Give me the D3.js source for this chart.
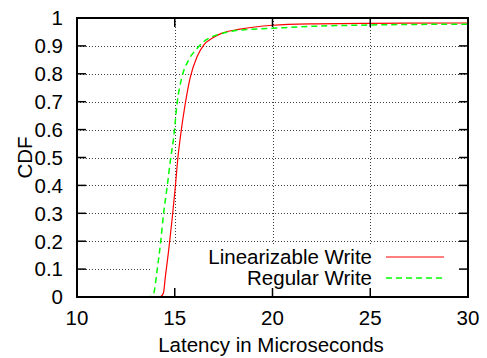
<!DOCTYPE html>
<html>
<head>
<meta charset="utf-8">
<script src="https://cdn.jsdelivr.net/npm/d3@7/dist/d3.min.js"></script>
<style>
  html, body { margin: 0; padding: 0; background: #fff; }
  svg text { font-family: "Liberation Sans", Arial, Helvetica, sans-serif; fill: #000; }
</style>
</head>
<body>
<svg id="chart" width="487" height="358"></svg>
<script>
// latency (microseconds) / cumulative fraction
var linLatency = [14.0, 14.27, 14.42, 14.52, 14.69, 14.86, 15.03, 15.15, 15.29, 15.54, 15.80, 16.14, 16.48, 16.91, 17.33, 18.35, 20, 22, 25, 30];
var linCdf     = [0, 0.001, 0.014, 0.073, 0.168, 0.276, 0.395, 0.491, 0.575, 0.694, 0.789, 0.861, 0.903, 0.927, 0.943, 0.960, 0.974, 0.979, 0.981, 0.982];
var regLatency = [13.5, 13.72, 13.92, 14.10, 14.27, 14.43, 14.61, 14.78, 14.95, 15.12, 15.37, 15.71, 16.14, 16.48, 16.91, 17.33, 18.35, 20, 22, 25, 30];
var regCdf     = [0, 0.001, 0.013, 0.097, 0.192, 0.30, 0.395, 0.491, 0.575, 0.694, 0.789, 0.849, 0.891, 0.915, 0.933, 0.943, 0.957, 0.963, 0.970, 0.975, 0.978];

var xTicks = [10, 15, 20, 25, 30];
var yTicks = [0, 0.1, 0.2, 0.3, 0.4, 0.5, 0.6, 0.7, 0.8, 0.9, 1];
var seriesNames = ['Linearizable Write', 'Regular Write'];

var L = 77, R = 468, T = 18, B = 297;
var TICK = 9;
var FONT = 20.5;

var svg = d3.select('#chart');
var x = d3.scaleLinear().domain([10, 30]).range([L, R]);
var y = d3.scaleLinear().domain([0, 1]).range([B, T]);

// grid (dotted), skip the border positions
var grid = svg.append('g')
  .attr('stroke', '#000')
  .attr('stroke-width', 1)
  .attr('stroke-dasharray', '1,2')
  .attr('opacity', 0.75);
grid.selectAll('.vg')
  .data(xTicks.filter(function (d) { return d !== 10 && d !== 30; }))
  .enter().append('line')
  .attr('x1', function (d) { return Math.round(x(d)) + 0.5; })
  .attr('x2', function (d) { return Math.round(x(d)) + 0.5; })
  .attr('y1', T).attr('y2', B);
grid.selectAll('.hg')
  .data(yTicks.filter(function (d) { return d !== 0 && d !== 1; }))
  .enter().append('line')
  .attr('y1', function (d) { return Math.round(y(d)) + 0.5; })
  .attr('y2', function (d) { return Math.round(y(d)) + 0.5; })
  .attr('x1', L).attr('x2', R);

// opaque key area hides the grid behind it
svg.append('rect')
  .attr('x', 150).attr('y', 246)
  .attr('width', R - 150 - 2).attr('height', B - 246 - 1)
  .attr('fill', '#fff');

// curves
var line = d3.line()
  .x(function (d) { return x(d[0]); })
  .y(function (d) { return y(d[1]); })
  .curve(d3.curveMonotoneX);

var linData = d3.zip(linLatency, linCdf);
var regData = d3.zip(regLatency, regCdf);

svg.append('path')
  .datum(linData)
  .attr('d', line)
  .attr('fill', 'none')
  .attr('stroke', '#ff0000')
  .attr('stroke-width', 1.2);

svg.append('path')
  .datum(regData)
  .attr('d', line)
  .attr('fill', 'none')
  .attr('stroke', '#00ff00')
  .attr('stroke-width', 1.5)
  .attr('stroke-dasharray', '6,4');

// ticks on all four sides
var ticks = svg.append('g').attr('stroke', '#000').attr('stroke-width', 1.5);
xTicks.forEach(function (d) {
  ticks.append('line').attr('x1', x(d)).attr('x2', x(d)).attr('y1', B).attr('y2', B - TICK);
  ticks.append('line').attr('x1', x(d)).attr('x2', x(d)).attr('y1', T).attr('y2', T + TICK);
});
yTicks.forEach(function (d) {
  ticks.append('line').attr('y1', y(d)).attr('y2', y(d)).attr('x1', L).attr('x2', L + TICK);
  ticks.append('line').attr('y1', y(d)).attr('y2', y(d)).attr('x1', R).attr('x2', R - TICK);
});

// border
svg.append('rect')
  .attr('x', L).attr('y', T)
  .attr('width', R - L).attr('height', B - T)
  .attr('fill', 'none')
  .attr('stroke', '#000')
  .attr('stroke-width', 2);

// tick labels
svg.append('g').selectAll('text')
  .data(xTicks).enter().append('text')
  .attr('x', function (d) { return x(d); })
  .attr('y', 325)
  .attr('text-anchor', 'middle')
  .attr('font-size', FONT)
  .text(function (d) { return d; });

svg.append('g').selectAll('text')
  .data(yTicks).enter().append('text')
  .attr('x', 63)
  .attr('y', function (d) { return y(d) + 7.3; })
  .attr('text-anchor', 'end')
  .attr('font-size', FONT)
  .text(function (d) { return d; });

// axis titles
svg.append('text')
  .attr('x', 271)
  .attr('y', 352)
  .attr('text-anchor', 'middle')
  .attr('font-size', FONT)
  .text('Latency in Microseconds');

svg.append('text')
  .attr('transform', 'translate(31.5,' + ((T + B) / 2) + ') rotate(-90)')
  .attr('text-anchor', 'middle')
  .attr('font-size', FONT)
  .text('CDF');

// legend
var legend = svg.append('g');
var legendRows = [
  { name: seriesNames[0], color: '#ff0000', dash: null, width: 1.2, y: 257 },
  { name: seriesNames[1], color: '#00ff00', dash: '6,4', width: 1.5, y: 278 }
];
legendRows.forEach(function (r) {
  legend.append('text')
    .attr('x', 372)
    .attr('y', r.y + 7)
    .attr('text-anchor', 'end')
    .attr('font-size', FONT)
    .text(r.name);
  legend.append('line')
    .attr('x1', 386).attr('x2', 444)
    .attr('y1', r.y).attr('y2', r.y)
    .attr('stroke', r.color)
    .attr('stroke-width', r.width)
    .attr('stroke-dasharray', r.dash);
});
</script>
</body>
</html>
